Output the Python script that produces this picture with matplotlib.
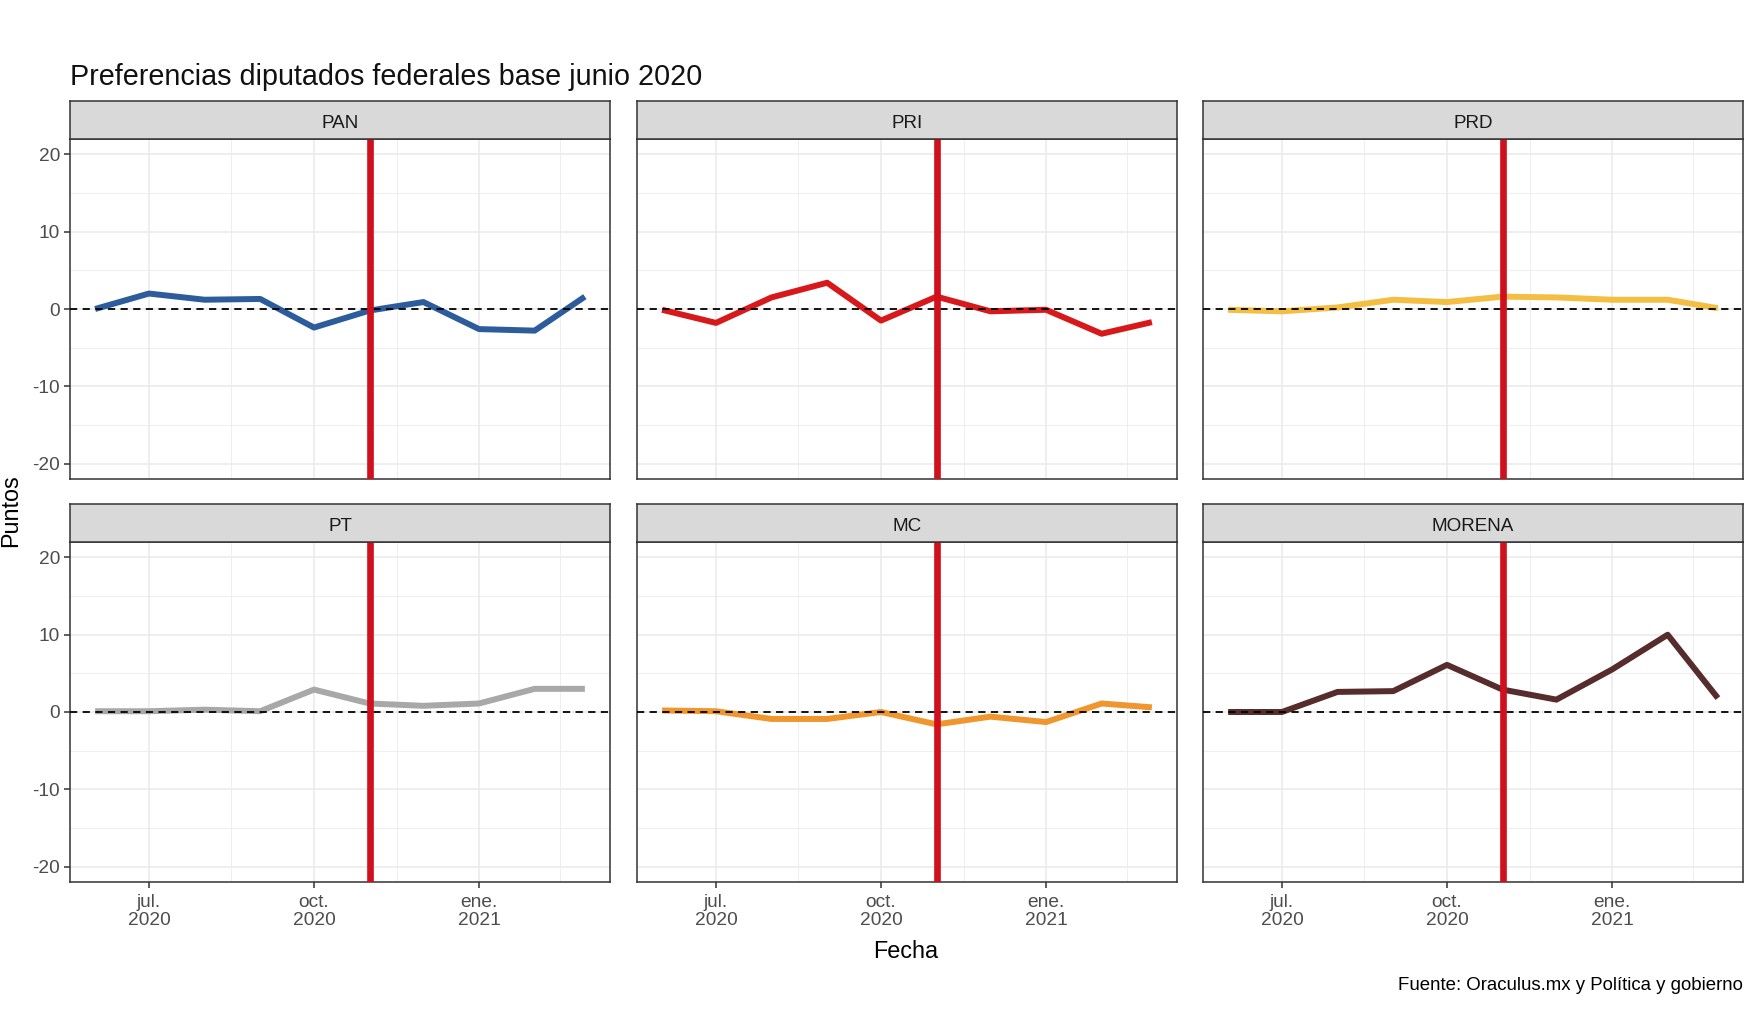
import matplotlib
matplotlib.use("Agg")
import matplotlib.pyplot as plt
import numpy as np

plt.rcParams['font.family'] = ['Liberation Sans', 'DejaVu Sans']

# datos: diferencia en puntos respecto a junio 2020
fechas = np.array(["2020-06-01", "2020-07-01", "2020-08-01", "2020-09-01", "2020-10-01",
                   "2020-11-01", "2020-12-01", "2021-01-01", "2021-02-01", "2021-03-01"],
                  dtype="datetime64[D]")
partidos = ["PAN", "PRI", "PRD", "PT", "MC", "MORENA"]
pan = [0.0, 2.0, 1.2, 1.3, -2.4, -0.2, 0.9, -2.6, -2.8, 1.6]
pri = [-0.1, -1.8, 1.5, 3.4, -1.5, 1.6, -0.3, -0.1, -3.2, -1.7]
prd = [-0.1, -0.3, 0.2, 1.2, 0.9, 1.6, 1.5, 1.2, 1.2, 0.1]
pt = [0.1, 0.1, 0.3, 0.1, 2.9, 1.1, 0.8, 1.1, 3.0, 3.0]
mc = [0.2, 0.1, -0.9, -0.9, 0.0, -1.6, -0.6, -1.3, 1.1, 0.6]
morena = [0.0, 0.0, 2.6, 2.7, 6.1, 2.9, 1.6, 5.5, 10.0, 1.8]
series = [pan, pri, prd, pt, mc, morena]
colores = ["#2D5C9C", "#D7191C", "#F3BE42", "#A8A8A8", "#EF962F", "#562C2C"]

fecha_corte = np.datetime64("2020-11-01")
ticks_x = np.array(["2020-07-01", "2020-10-01", "2021-01-01"], dtype="datetime64[D]")
etiquetas_x = ["jul.\n2020", "oct.\n2020", "ene.\n2021"]
minor_x = np.array(["2020-08-16", "2020-11-16", "2021-02-15"], dtype="datetime64[D]")
ticks_y = [-20, -10, 0, 10, 20]
minor_y = [-15, -5, 5, 15]

W, H = 1758, 1016
fig = plt.figure(figsize=(W / 100, H / 100), dpi=100)

lefts = [70, 637, 1203]
panel_w = 540
tops = [139, 542]
panel_h = 340
strip_h = 38

rango = fechas[-1] - fechas[0]
pad = np.timedelta64(int(round(rango.astype(int) * 0.05)), "D")

for i, (nombre, y, col) in enumerate(zip(partidos, series, colores)):
    fila, columna = divmod(i, 3)
    x0 = lefts[columna]
    y0 = tops[fila]
    ax = fig.add_axes([x0 / W, 1 - (y0 + panel_h) / H, panel_w / W, panel_h / H])
    ax.plot(fechas, y, color=col, lw=4.3, solid_capstyle="butt", zorder=3)
    ax.axhline(0, color="black", lw=1.3, linestyle=(0, (4, 3)), zorder=4)
    ax.axvline(fecha_corte, color="#D0101C", lw=4.8, zorder=5)

    ax.set_ylim(-22, 22)
    ax.set_xlim(fechas[0] - pad, fechas[-1] + pad)
    ax.set_yticks(ticks_y)
    ax.set_yticks(minor_y, minor=True)
    ax.set_xticks(ticks_x)
    ax.set_xticks(minor_x, minor=True)
    ax.grid(which="major", color="#EBEBEB", lw=1.2)
    ax.grid(which="minor", color="#EBEBEB", lw=0.6)
    ax.set_axisbelow(True)
    ax.tick_params(which="minor", length=0)
    ax.tick_params(which="major", length=4.2, width=1.1, color="#333333",
                   labelcolor="#4D4D4D", labelsize=13.8, pad=3)
    ax.tick_params(axis="x", pad=4.5)
    if fila == 1:
        ax.set_xticklabels(etiquetas_x, linespacing=1.05)
    else:
        ax.tick_params(axis="x", length=0, labelbottom=False)
    if columna == 0:
        ax.set_yticklabels([str(t) for t in ticks_y])
    else:
        ax.tick_params(axis="y", length=0, labelleft=False)
    for s in ax.spines.values():
        s.set_color("#333333")
        s.set_linewidth(1.1)

    # franja con el nombre del partido
    sx = fig.add_axes([x0 / W, 1 - y0 / H, panel_w / W, strip_h / H])
    sx.set_facecolor("#D9D9D9")
    sx.set_xticks([])
    sx.set_yticks([])
    for s in sx.spines.values():
        s.set_color("#333333")
        s.set_linewidth(1.1)
    sx.text(0.5, 0.42, nombre, ha="center", va="center", fontsize=13.6,
            color="#1A1A1A", transform=sx.transAxes)

fig.text(70 / W, 1 - 77 / H, "Preferencias diputados federales base junio 2020",
         fontsize=20.7, color="#111111", ha="left", va="center")
fig.text(11 / W, 1 - 511 / H, "Puntos", fontsize=16.8, rotation=90,
         ha="center", va="center")
fig.text(906 / W, 1 - 951 / H, "Fecha", fontsize=16.8, ha="center", va="center")
fig.text(1743 / W, 1 - 985 / H, "Fuente: Oraculus.mx y Política y gobierno",
         fontsize=13.4, ha="right", va="center")

fig.savefig("out.png", dpi=100, facecolor="white")
